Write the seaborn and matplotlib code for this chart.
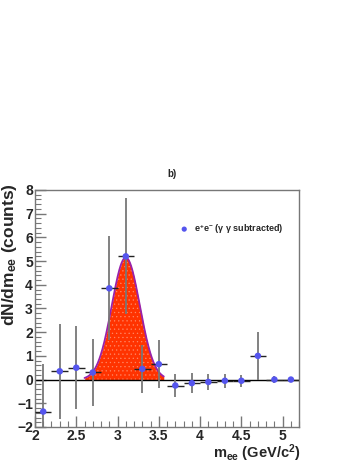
import numpy as np
import matplotlib
matplotlib.use("Agg")
import matplotlib.pyplot as plt
import seaborn as sns

# data
mass = [2.1, 2.3, 2.5, 2.7, 2.9, 3.1, 3.3, 3.5, 3.7, 3.9, 4.1, 4.3, 4.5, 4.7, 4.9, 5.1]
counts = [-1.35, 0.35, 0.5, 0.3, 3.85, 5.2, 0.45, 0.65, -0.25, -0.15, -0.1, -0.05, -0.05, 1.0, 0.0, 0.0]
errors = [2.0, 2.0, 1.75, 1.4, 2.2, 2.45, 1.0, 1.0, 0.5, 0.42, 0.35, 0.3, 0.25, 1.0, 0.15, 0.12]
bin_half = 0.1

# gaussian fit parameters
fit_amp, fit_mean, fit_sigma = 5.15, 3.1, 0.17
fit_lo, fit_hi = 2.6, 3.56

sns.set_theme(style="white")
plt.rcParams['font.family'] = ['Liberation Sans', 'DejaVu Sans']
plt.rcParams['mathtext.fontset'] = 'custom'
plt.rcParams['mathtext.rm'] = 'Liberation Sans:bold'
plt.rcParams['mathtext.it'] = 'Liberation Sans:bold'
plt.rcParams['mathtext.bf'] = 'Liberation Sans:bold'
plt.rcParams['hatch.linewidth'] = 0.4

fig = plt.figure(figsize=(3.57, 4.62), dpi=100)
ax = fig.add_axes([0.098, 0.0758, 0.74, 0.513])

# fit curve
xf = np.linspace(fit_lo, fit_hi, 300)
yf = fit_amp * np.exp(-0.5 * ((xf - fit_mean) / fit_sigma) ** 2)
ax.fill_between(xf, 0, yf, color="#ff3300", lw=0, zorder=1)
ax.fill_between(xf, 0, yf, facecolor="none", edgecolor="#ff8866", hatch="....", lw=0, zorder=1)
ax.plot(xf, yf, color="#9922aa", lw=1.3, zorder=2)

ax.axhline(0, color="black", lw=1, zorder=2)

# error bars
ax.errorbar(mass, counts, yerr=errors, fmt="none", ecolor="#777777", elinewidth=1.3, capsize=0, zorder=3)
ax.errorbar(mass, counts, xerr=bin_half, fmt="none", ecolor="#222222", elinewidth=1.0, capsize=0, zorder=3)
sns.scatterplot(x=mass, y=counts, ax=ax, color="#5555ee", s=22, edgecolor="none", zorder=4,
                label=r"e$^{+}$e$^{-}$ ($\gamma$ $\gamma$ subtracted)")

ax.set_xlim(2, 5.2)
ax.set_ylim(-2, 8)
ax.set_xticks([2, 2.5, 3, 3.5, 4, 4.5, 5])
ax.set_xticklabels(["2", "2.5", "3", "3.5", "4", "4.5", "5"])
ax.set_xticks(np.arange(2, 5.21, 0.1), minor=True)
ax.set_yticks(range(-2, 9))
ax.set_yticks(np.arange(-2, 8.01, 0.2), minor=True)
ax.tick_params(axis="both", which="major", direction="in", length=8, width=1, color="#777777",
               labelsize=10, pad=1.5)
ax.tick_params(axis="both", which="minor", direction="in", length=4, width=0.8, color="#777777")
ax.tick_params(left=True, bottom=True, which="both")
for lbl in ax.get_xticklabels() + ax.get_yticklabels():
    lbl.set_fontweight("bold")
for s in ax.spines.values():
    s.set_color("#777777")
    s.set_linewidth(1)

ax.set_xlabel(r"m$_{ee}$ (GeV/c$^{2}$)", fontsize=10.5, fontweight="bold", ha="right")
ax.xaxis.set_label_coords(1.005, -0.063)
ax.set_ylabel(r"dN/dm$_{ee}$ (counts)", fontsize=12.5, fontweight="bold", ha="right")
ax.yaxis.set_label_coords(-0.062, 1.03)
ax.set_title("b)", fontsize=7, fontweight="bold", pad=9, x=0.52)

leg = ax.legend(loc="upper left", bbox_to_anchor=(0.5, 0.9), frameon=False, fontsize=6.5,
                handletextpad=0.1, markerscale=0.8)
for t in leg.get_texts():
    t.set_fontweight("bold")

fig.savefig("out.png", dpi=100)
